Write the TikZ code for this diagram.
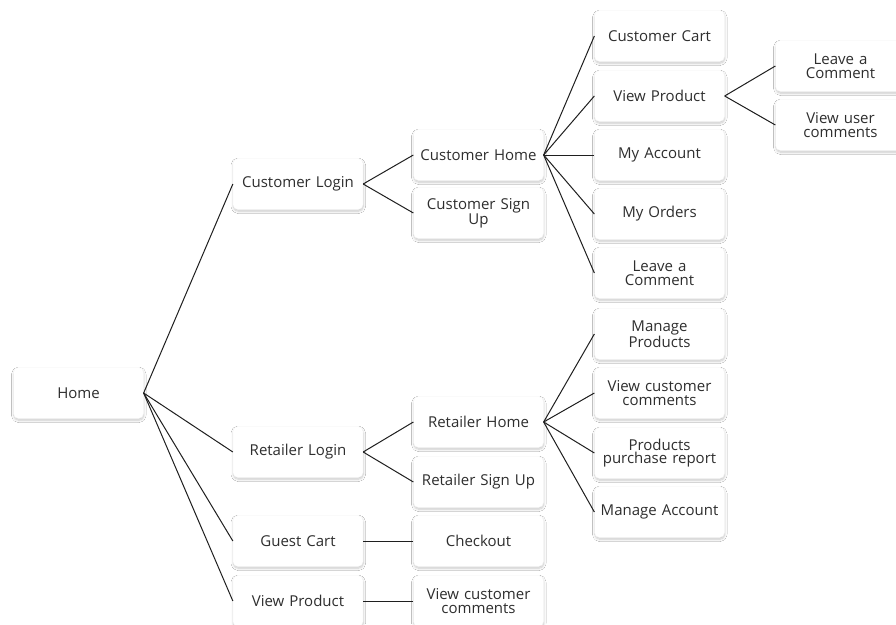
\documentclass[tikz,border=0pt]{standalone}
\usepackage{fontspec}
\setmainfont{Open Sans}
\usetikzlibrary{shadows.blur}

\tikzset{
  box/.style={
    draw=black!3, line width=0.3pt, fill=white, rounded corners=5pt,
    minimum width=129pt, minimum height=51pt, inner sep=2pt,
    align=center, text width=126pt,
    font=\fontsize{15}{13.6}\selectfont, text=black!82,
    blur shadow={shadow xshift=0.3pt, shadow yshift=-1.8pt,
                 shadow blur radius=2.2pt, shadow blur steps=10,
                 shadow opacity=22}
  },
  link/.style={draw=black!88, line width=1pt}
}

\begin{document}
\begin{tikzpicture}[x=1pt, y=-1pt]
  \path[use as bounding box, clip] (0,0) rectangle (896,624);
  \fill[white] (0,0) rectangle (896,624);

  % root
  \node[box] (home) at (78.5,393) {Home};

  % first level
  \node[box] (clogin)  at (298,184) {Customer Login};
  \node[box] (rlogin)  at (298,452) {Retailer Login};
  \node[box] (gcart)   at (298,541) {Guest Cart};
  \node[box] (gview)   at (298,601) {View Product};

  % second level
  \node[box] (chome)   at (478.5,155) {Customer Home};
  \node[box] (csignup) at (478.5,213) {Customer Sign\\Up};
  \node[box] (rhome)   at (478.5,422) {Retailer Home};
  \node[box] (rsignup) at (478.5,482) {Retailer Sign Up};
  \node[box] (checkout) at (478.5,541) {Checkout};
  \node[box] (gcomm)   at (478.5,601) {View customer\\comments};

  % customer home children
  \node[box] (ccart)   at (659.5,36)  {Customer Cart};
  \node[box] (cview)   at (659.5,96)  {View Product};
  \node[box] (cacct)   at (659.5,155) {My Account};
  \node[box] (corders) at (659.5,214) {My Orders};
  \node[box] (cleave)  at (659.5,273) {Leave a\\Comment};

  % retailer home children
  \node[box] (rmanage) at (659.5,334) {Manage\\Products};
  \node[box] (rcomm)   at (659.5,393) {View customer\\comments};
  \node[box] (rreport) at (659.5,453) {Products\\purchase report};
  \node[box] (racct)   at (659.5,512) {Manage Account};

  % view product children
  \node[box] (pleave)  at (840.5,66)  {Leave a\\Comment};
  \node[box] (pcomm)   at (840.5,125) {View user\\comments};

  % connectors
  \foreach \c in {clogin,rlogin,gcart,gview}
    \draw[link] (home.east) -- (\c.west);
  \foreach \c in {chome,csignup}
    \draw[link] (clogin.east) -- (\c.west);
  \foreach \c in {rhome,rsignup}
    \draw[link] (rlogin.east) -- (\c.west);
  \draw[link] (gcart.east) -- (checkout.west);
  \draw[link] (gview.east) -- (gcomm.west);
  \foreach \c in {ccart,cview,cacct,corders,cleave}
    \draw[link] (chome.east) -- (\c.west);
  \foreach \c in {rmanage,rcomm,rreport,racct}
    \draw[link] (rhome.east) -- (\c.west);
  \foreach \c in {pleave,pcomm}
    \draw[link] (cview.east) -- (\c.west);
\end{tikzpicture}
\end{document}
